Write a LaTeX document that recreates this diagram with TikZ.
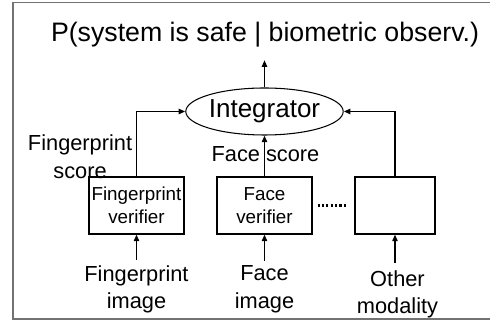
\documentclass[tikz,border=0pt]{standalone}
\usepackage{fontspec}
\setmainfont{Liberation Sans}
\usepackage{tikz}
\usetikzlibrary{arrows.meta, positioning, shapes}

\begin{document}
\begin{tikzpicture}[
    verifier/.style={draw, line width=0.6pt, minimum width=1.9cm, minimum height=1.14cm, inner sep=0pt, align=center, font=\fontsize{10.7}{12.9}\selectfont},
    lbl/.style={align=center, inner sep=0pt, font=\fontsize{12.4}{15.6}\selectfont},
    conn/.style={-{Triangle[length=3.8pt, width=3pt]}, line width=1.1pt}
  ]
    \useasboundingbox (0,0) rectangle (9.8,6.44);
    \draw[black!55, line width=0.6pt] (0.26,0.06) rectangle (9.9,6.39);

    % output and fusion stage
    \node[inner sep=0pt, font=\fontsize{15.2}{18}\selectfont] (title) at (5.30,5.744) {P(system is safe | biometric observ.)};
    \node[draw, ellipse, line width=0.6pt, minimum width=2.74cm, minimum height=0.94cm, inner sep=0pt, font=\fontsize{14.8}{18}\selectfont] (integ) at (5.29,4.21) {Integrator};
    \draw[conn, shorten >=0.25cm] (integ.north) -- (integ.north |- title.south);

    % one verifier per modality
    \node[verifier] (fpbox) at (2.73,2.33) {Fingerprint\\verifier};
    \node[verifier] (facebox) at (5.29,2.33) {Face\\verifier};
    \node[verifier, minimum width=1.6cm] (otherbox) at (7.90,2.33) {};
    \draw[line width=1.4pt, dash pattern=on 1.2pt off 1.3pt, shorten <=0.1cm, shorten >=0.14cm] (facebox.east) -- (otherbox.west);

    % scores going up
    \draw[conn] (fpbox.north) |- (integ.west);
    \draw[conn] (facebox.north) -- (integ.south);
    \draw[conn] (otherbox.north) |- (integ.east);
    \node[lbl, anchor=north east] (fpscore) at ([xshift=-0.08cm, yshift=0.84cm]fpbox.north) {Fingerprint\\score};
    \node[lbl] (facescore) at ([xshift=0.02cm, yshift=0.44cm]facebox.north) {Face score};

    % raw inputs
    \node[lbl, below=0.61cm of fpbox] (fpin) {Fingerprint\\image};
    \node[lbl, below=0.62cm of facebox] (facein) {Face\\image};
    \node[lbl, below=0.71cm of otherbox, xshift=0.05cm] (otherin) {Other\\modality};
    \draw[conn, shorten <=0.1cm] (fpin.north) -- (fpbox.south);
    \draw[conn, shorten <=0.1cm] (facein.north) -- (facebox.south);
    \draw[conn, shorten <=0.15cm] (otherin.north -| otherbox.south) -- (otherbox.south);
\end{tikzpicture}
\end{document}
